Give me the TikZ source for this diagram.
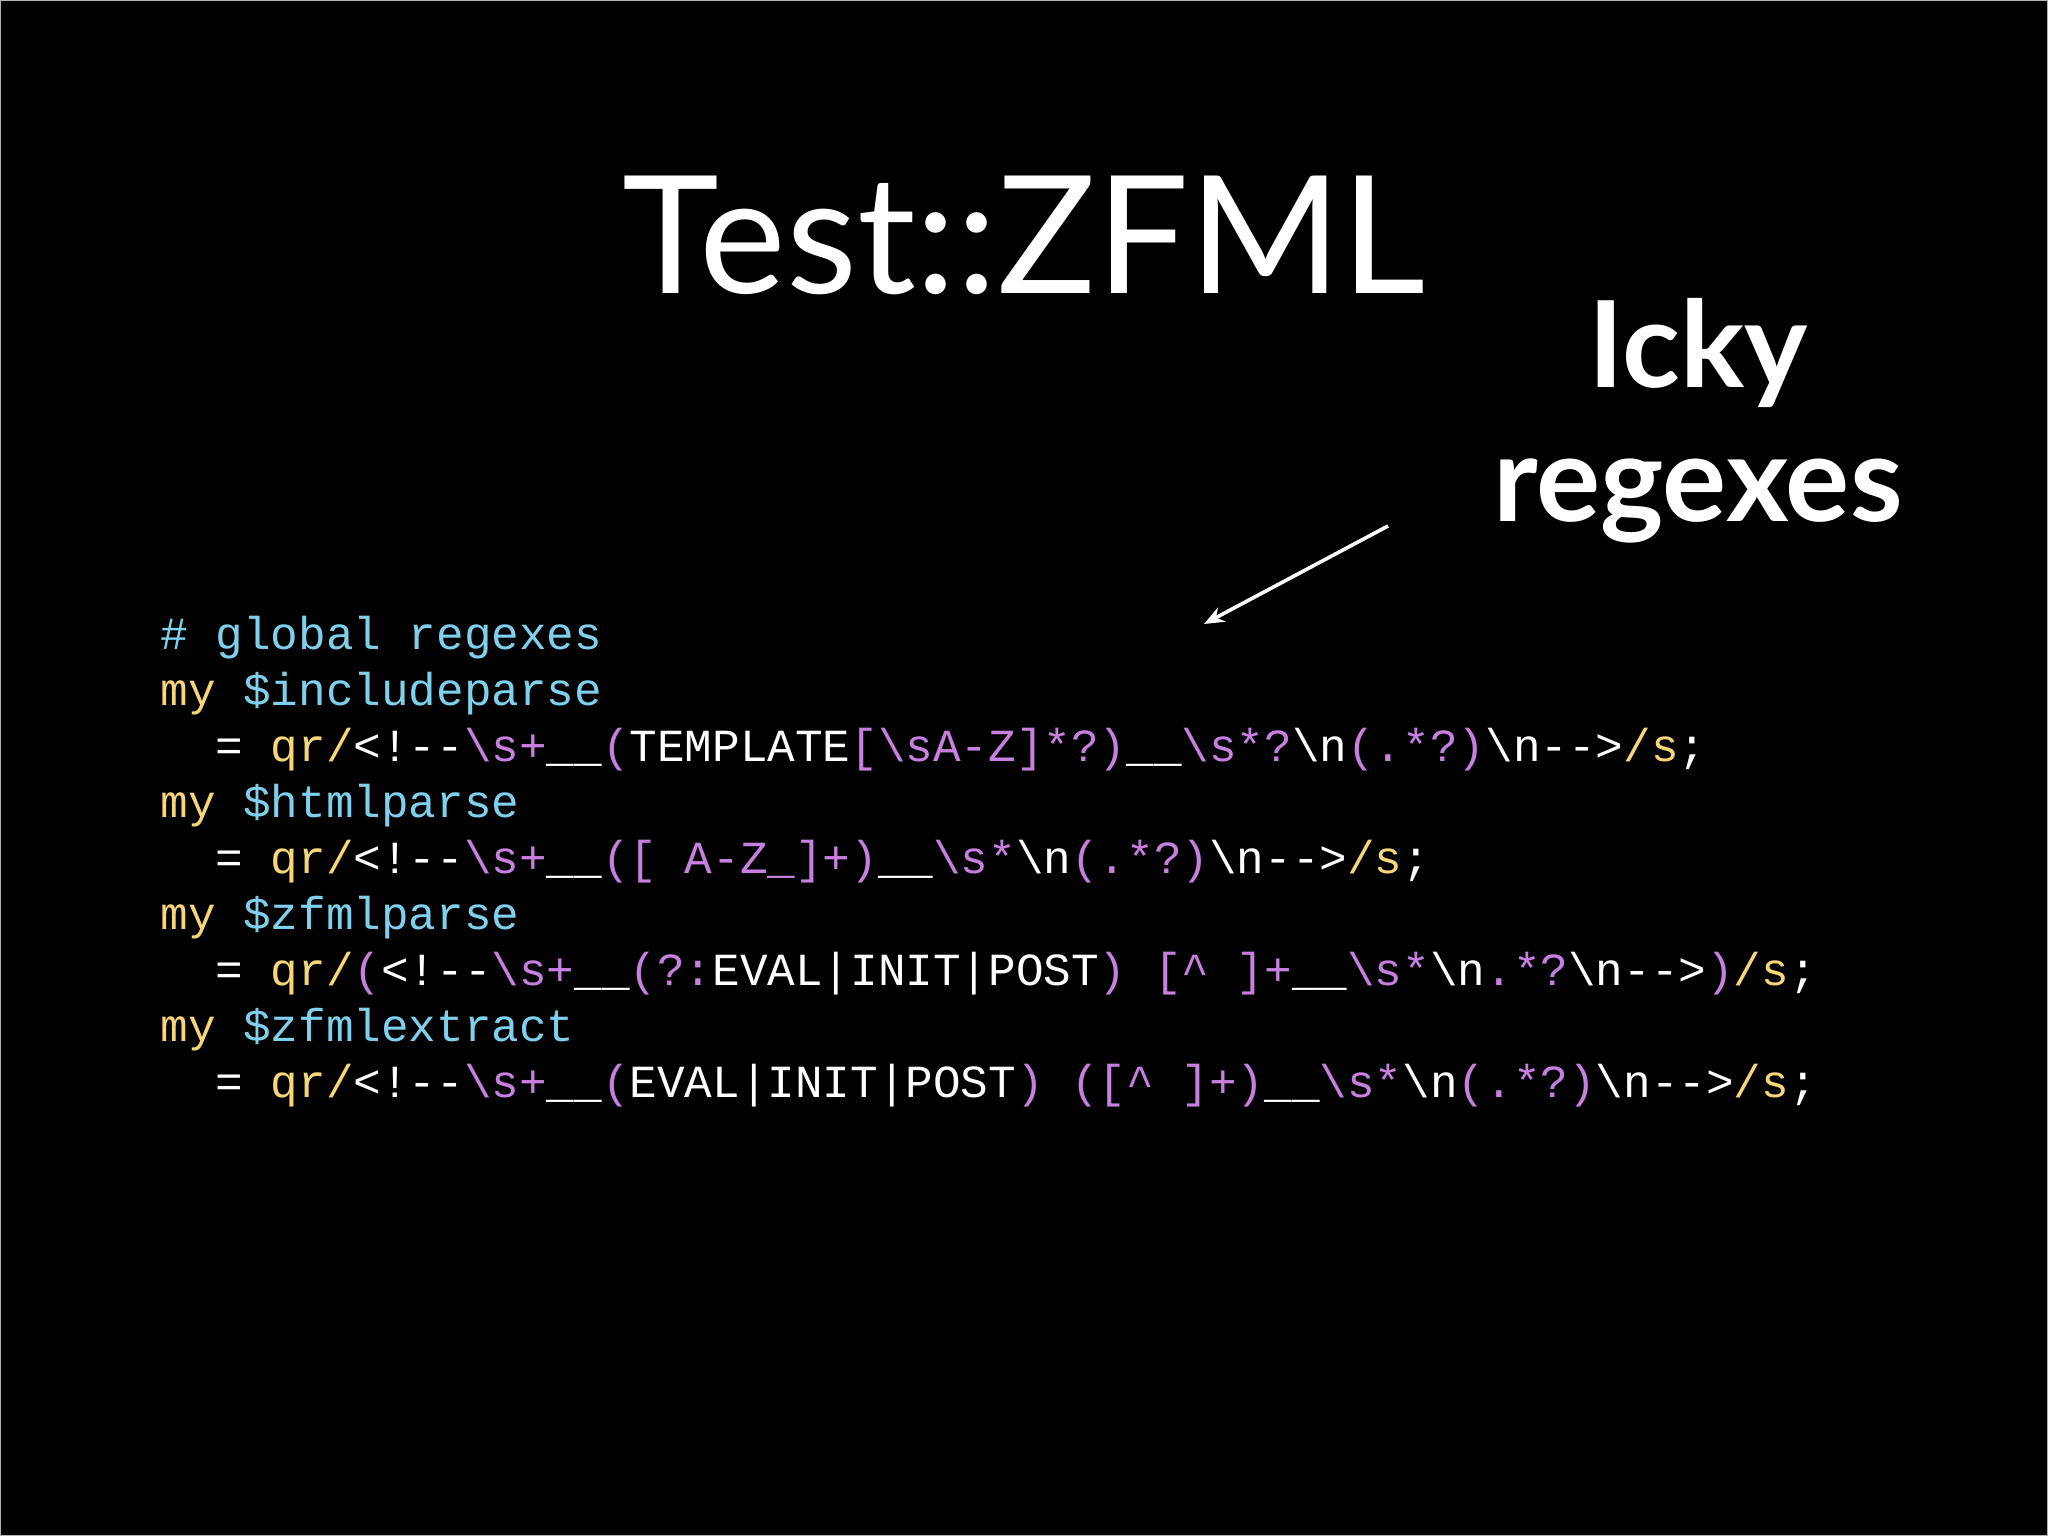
\documentclass[tikz,border=0pt]{standalone}
\usepackage{fontspec}
\usetikzlibrary{arrows.meta}
\setmainfont{Lato}
\newfontfamily\codef[Ligatures=NoCommon]{Liberation Mono}
\definecolor{cy}{HTML}{7FD0EC}
\definecolor{ye}{HTML}{F5D67A}
\definecolor{pu}{HTML}{C880E0}
\newcommand{\cY}[1]{\textcolor{ye}{#1}}
\newcommand{\cP}[1]{\textcolor{pu}{#1}}
\newcommand{\cC}[1]{\textcolor{cy}{#1}}
\newcommand{\bs}{\textbackslash}
\newcommand{\us}{\_\_}
\newcommand{\cm}{<!-{}-}
\newcommand{\ce}{-{}->}
\tikzset{code/.style={anchor=base west,inner sep=0pt,text=white,font=\codef\fontsize{23}{28}\selectfont}}
\begin{document}
\begin{tikzpicture}[x=1pt,y=1pt]
\fill[black] (0,0) rectangle (1024,768);
\draw[gray!60,line width=0.5pt] (0.25,0.25) rectangle (1023.75,767.75);
\useasboundingbox (0,0) rectangle (1024,768);
\node[anchor=base,text=white,inner sep=0pt,font=\fontsize{82}{90}\selectfont] (title) at (512,621) {Test::ZFML};
\node[anchor=base,text=white,inner sep=0pt,font=\bfseries\fontsize{60}{66}\selectfont] (icky) at (849,574) {Icky};
\node[anchor=base,text=white,inner sep=0pt,font=\bfseries\fontsize{60}{66}\selectfont] (reg) at (849,507) {regexes};
\coordinate (a1) at (694,505);
\coordinate (a2) at (602,456);
\draw[white,line width=1.8pt,-{Stealth[length=10pt,width=8pt]}] (a1) -- (a2);
\node[code] (l1) at (80,443) {\cC{\# global regexes}};
\node[code] (l2) at (80,415) {\cY{my} \cC{\$includeparse}};
\node[code] (l3) at (80,387) {\ \ = \cY{qr/}\cm\cP{\bs s+}\us\cP{(}TEMPLATE\cP{[\bs sA-Z]*?)}\us\cP{\bs s*?}\bs n\cP{(.*?)}\bs n\ce\cY{/s};};
\node[code] (l4) at (80,359) {\cY{my} \cC{\$htmlparse}};
\node[code] (l5) at (80,331) {\ \ = \cY{qr/}\cm\cP{\bs s+}\us\cP{([ A-Z\_]+)}\us\cP{\bs s*}\bs n\cP{(.*?)}\bs n\ce\cY{/s};};
\node[code] (l6) at (80,303) {\cY{my} \cC{\$zfmlparse}};
\node[code] (l7) at (80,275) {\ \ = \cY{qr/}\cP{(}\cm\cP{\bs s+}\us\cP{(?:}EVAL|INIT|POST\cP{) [\^{} ]+}\us\cP{\bs s*}\bs n\cP{.*?}\bs n\ce\cP{)}\cY{/s};};
\node[code] (l8) at (80,247) {\cY{my} \cC{\$zfmlextract}};
\node[code] (l9) at (80,219) {\ \ = \cY{qr/}\cm\cP{\bs s+}\us\cP{(}EVAL|INIT|POST\cP{) ([\^{} ]+)}\us\cP{\bs s*}\bs n\cP{(.*?)}\bs n\ce\cY{/s};};
\end{tikzpicture}
\end{document}
